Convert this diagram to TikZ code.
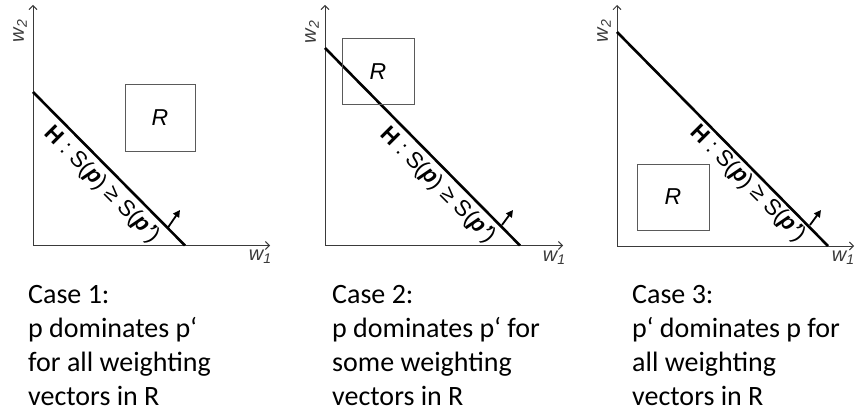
\documentclass[tikz,border=0pt]{standalone}
\usepackage{fontspec}
\setmainfont{Liberation Sans}
\newfontfamily\calibri{Carlito}
\usetikzlibrary{arrows.meta}
\definecolor{axisgray}{HTML}{3A3A3A}
\definecolor{boxgray}{HTML}{5A5A5A}
\tikzset{
  axisline/.style={draw=axisgray, line width=0.9pt, -{Straight Barb[length=4pt,width=8pt]}},
  hline/.style={draw=black, line width=2.6pt},
  rbox/.style={draw=boxgray, line width=0.9pt},
  rlabel/.style={font=\fontsize{23}{26}\selectfont\itshape, inner sep=0pt},
  axlabel/.style={font=\fontsize{20}{22}\selectfont\itshape, inner sep=0pt, text=axisgray},
  hlabel/.style={font=\fontsize{22.5}{26}\selectfont, rotate=-45, inner sep=0pt},
  normarrow/.style={draw=black, line width=1.8pt, -{Triangle[length=7pt,width=7pt]}},
  caption/.style={font=\calibri\fontsize{28}{34}\selectfont, align=left, anchor=north west, inner sep=0pt},
}
\newcommand{\hlab}{{\bfseries H} : S({\bfseries\itshape p}) ≥ S({\bfseries\itshape p’})}
\newcommand{\wsub}[1]{w{\fontsize{14}{16}\selectfont\raisebox{-3pt}{#1}}}
\begin{document}
\begin{tikzpicture}[x=1pt,y=-1pt]
\useasboundingbox (0,0) rectangle (855,414);
% ---------- Panel 1 ----------
\coordinate (o1) at (33,245.5);
\coordinate (y1) at (33,5);
\coordinate (x1) at (270,245.5);
\draw[axisline] (o1) -- (y1);
\draw[axisline] (o1) -- (x1);
\node[axlabel, rotate=90] (w2a) at (20,31) {\wsub{2}};
\node[axlabel] (w1a) at (260,257) {\wsub{1}};
\coordinate (h1s) at (33,92);
\coordinate (h1e) at (185,245.5);
\draw[hline] (h1s) -- (h1e);
\draw[rbox] (125,84) rectangle (195,151);
\node[rlabel] (r1) at (160,118) {R};
\node[hlabel] (l1) at (102,185) {\hlab};
\coordinate (a1s) at (168,227.5);
\coordinate (a1e) at (180,210);
\draw[normarrow] (a1s) -- (a1e);
\node[caption] (c1) at (28,285) {Case 1:\\p dominates p‘\\for all weighting\\vectors in R};
% ---------- Panel 2 ----------
\coordinate (o2) at (325,245.5);
\coordinate (y2) at (325,5);
\coordinate (x2) at (563,245.5);
\draw[axisline] (o2) -- (y2);
\draw[axisline] (o2) -- (x2);
\node[axlabel, rotate=90] (w2b) at (312,32) {\wsub{2}};
\node[axlabel] (w1b) at (554,258) {\wsub{1}};
\coordinate (h2s) at (325,48);
\coordinate (h2e) at (520,245.5);
\draw[hline] (h2s) -- (h2e);
\draw[rbox] (342,38) rectangle (414,104);
\node[rlabel] (r2) at (378,72) {R};
\node[hlabel] (l2) at (438,185.5) {\hlab};
\coordinate (a2s) at (502,225);
\coordinate (a2e) at (513,210);
\draw[normarrow] (a2s) -- (a2e);
\node[caption] (c2) at (332,285) {Case 2:\\p dominates p‘ for\\some weighting\\vectors in R};
% ---------- Panel 3 ----------
\coordinate (o3) at (617,246);
\coordinate (y3) at (617,5);
\coordinate (x3) at (854,246);
\draw[axisline] (o3) -- (y3);
\draw[axisline] (o3) -- (x3);
\node[axlabel, rotate=90] (w2c) at (604,31) {\wsub{2}};
\node[axlabel] (w1c) at (843,258) {\wsub{1}};
\coordinate (h3s) at (617,32);
\coordinate (h3e) at (828,246);
\draw[hline] (h3s) -- (h3e);
\draw[rbox] (637,164) rectangle (709,230);
\node[rlabel] (r3) at (673,197) {R};
\node[hlabel] (l3) at (748,184) {\hlab};
\coordinate (a3s) at (810,225);
\coordinate (a3e) at (821,210);
\draw[normarrow] (a3s) -- (a3e);
\node[caption] (c3) at (632,285) {Case 3:\\p‘ dominates p for\\all weighting\\vectors in R};
\end{tikzpicture}
\end{document}
